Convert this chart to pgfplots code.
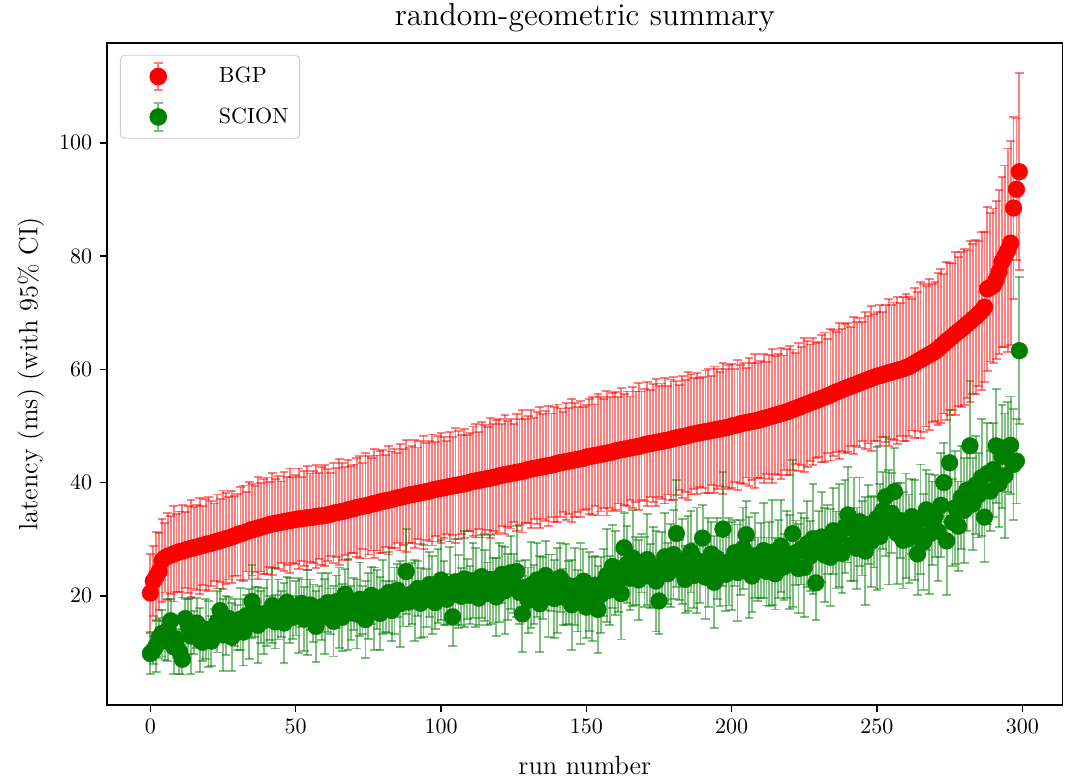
\documentclass[border=0pt]{standalone}
\usepackage{pgfplots}
\usepackage{pgfplotstable}
\pgfplotsset{compat=1.18}
\definecolor{mplgreen}{HTML}{008000}

\pgfplotstableread[row sep=\\]{
x y e \\
0 20.5 6.9 \\ 1 22.6 6.2 \\ 2 23.4 7.9 \\ 3 24.3 6.8 \\ 4 26.2 7.3 \\
5 26.7 6.1 \\ 6 27.0 7.7 \\ 7 27.2 6.9 \\ 8 27.4 8.4 \\ 9 27.6 6.9 \\
10 27.8 7.1 \\ 11 27.9 8.2 \\ 12 28.1 6.7 \\ 13 28.2 7.7 \\ 14 28.4 8.6 \\
15 28.5 7.2 \\ 16 28.6 7.5 \\ 17 28.8 8.5 \\ 18 28.9 7.0 \\ 19 29.1 8.0 \\
20 29.2 8.3 \\ 21 29.3 7.5 \\ 22 29.5 6.8 \\ 23 29.6 8.3 \\ 24 29.8 7.3 \\
25 29.9 8.7 \\ 26 30.1 8.0 \\ 27 30.2 7.3 \\ 28 30.4 8.1 \\ 29 30.6 7.1 \\
30 30.8 7.2 \\ 31 31.0 8.2 \\ 32 31.1 8.4 \\ 33 31.3 7.0 \\ 34 31.5 8.6 \\
35 31.7 8.1 \\ 36 31.8 7.6 \\ 37 32.0 9.0 \\ 38 32.1 7.8 \\ 39 32.3 8.4 \\
40 32.4 8.5 \\ 41 32.6 7.5 \\ 42 32.7 9.0 \\ 43 32.8 7.9 \\ 44 32.9 8.2 \\
45 33.0 7.2 \\ 46 33.1 8.7 \\ 47 33.2 7.8 \\ 48 33.3 9.2 \\ 49 33.4 7.6 \\
50 33.5 7.9 \\ 51 33.6 8.9 \\ 52 33.6 7.4 \\ 53 33.7 8.4 \\ 54 33.8 9.2 \\
55 33.8 7.8 \\ 56 33.9 8.1 \\ 57 34.0 9.1 \\ 58 34.1 7.6 \\ 59 34.1 8.6 \\
60 34.2 8.9 \\ 61 34.3 8.1 \\ 62 34.4 7.3 \\ 63 34.6 8.8 \\ 64 34.7 7.9 \\
65 34.8 9.3 \\ 66 34.9 8.6 \\ 67 35.0 7.8 \\ 68 35.2 8.8 \\ 69 35.3 7.7 \\
70 35.4 7.8 \\ 71 35.6 8.8 \\ 72 35.7 9.0 \\ 73 35.8 7.6 \\ 74 35.9 9.3 \\
75 36.0 8.7 \\ 76 36.2 8.2 \\ 77 36.3 9.6 \\ 78 36.4 8.4 \\ 79 36.6 9.0 \\
80 36.7 9.1 \\ 81 36.8 8.1 \\ 82 36.9 9.6 \\ 83 37.0 8.5 \\ 84 37.2 8.8 \\
85 37.3 7.9 \\ 86 37.4 9.4 \\ 87 37.5 8.5 \\ 88 37.7 9.9 \\ 89 37.8 8.4 \\
90 37.9 8.6 \\ 91 38.0 9.6 \\ 92 38.1 8.1 \\ 93 38.2 9.1 \\ 94 38.3 10.0 \\
95 38.4 8.6 \\ 96 38.5 8.9 \\ 97 38.7 9.8 \\ 98 38.8 8.3 \\ 99 38.9 9.3 \\
100 39.0 9.7 \\ 101 39.1 8.9 \\ 102 39.2 8.2 \\ 103 39.3 9.7 \\ 104 39.4 8.7 \\
105 39.5 10.1 \\ 106 39.6 9.5 \\ 107 39.7 8.7 \\ 108 39.8 9.6 \\ 109 39.9 8.5 \\
110 40.1 8.7 \\ 111 40.2 9.7 \\ 112 40.3 10.0 \\ 113 40.4 8.6 \\ 114 40.5 10.2 \\
115 40.6 9.6 \\ 116 40.7 9.1 \\ 117 40.8 10.6 \\ 118 40.9 9.4 \\ 119 41.0 10.0 \\
120 41.2 10.0 \\ 121 41.3 9.0 \\ 122 41.4 10.5 \\ 123 41.5 9.4 \\ 124 41.6 9.7 \\
125 41.7 8.7 \\ 126 41.8 10.3 \\ 127 41.9 9.4 \\ 128 42.0 10.8 \\ 129 42.1 9.2 \\
130 42.3 9.4 \\ 131 42.4 10.4 \\ 132 42.5 8.9 \\ 133 42.6 9.9 \\ 134 42.7 10.7 \\
135 42.8 9.3 \\ 136 42.9 9.7 \\ 137 43.0 10.6 \\ 138 43.1 9.1 \\ 139 43.2 10.1 \\
140 43.4 10.4 \\ 141 43.5 9.6 \\ 142 43.6 8.8 \\ 143 43.7 10.3 \\ 144 43.8 9.4 \\
145 43.9 10.8 \\ 146 44.0 10.1 \\ 147 44.1 9.3 \\ 148 44.2 10.2 \\ 149 44.3 9.1 \\
150 44.5 9.2 \\ 151 44.6 10.2 \\ 152 44.7 10.4 \\ 153 44.8 9.0 \\ 154 44.9 10.7 \\
155 45.0 10.1 \\ 156 45.1 9.6 \\ 157 45.2 11.0 \\ 158 45.3 9.8 \\ 159 45.4 10.4 \\
160 45.6 10.4 \\ 161 45.7 9.4 \\ 162 45.8 10.9 \\ 163 45.9 9.8 \\ 164 46.0 10.1 \\
165 46.1 9.1 \\ 166 46.2 10.7 \\ 167 46.3 9.8 \\ 168 46.4 11.2 \\ 169 46.5 9.6 \\
170 46.7 9.9 \\ 171 46.8 10.9 \\ 172 46.9 9.4 \\ 173 47.0 10.4 \\ 174 47.1 11.2 \\
175 47.2 9.8 \\ 176 47.3 10.2 \\ 177 47.4 11.1 \\ 178 47.5 9.6 \\ 179 47.6 10.6 \\
180 47.8 10.9 \\ 181 47.9 10.1 \\ 182 48.0 9.3 \\ 183 48.1 10.8 \\ 184 48.2 9.9 \\
185 48.3 11.3 \\ 186 48.5 10.6 \\ 187 48.6 9.8 \\ 188 48.7 10.7 \\ 189 48.8 9.6 \\
190 48.9 9.8 \\ 191 49.0 10.8 \\ 192 49.1 11.0 \\ 193 49.2 9.6 \\ 194 49.3 11.2 \\
195 49.4 10.6 \\ 196 49.5 10.1 \\ 197 49.6 11.6 \\ 198 49.7 10.4 \\ 199 49.8 11.0 \\
200 50.0 11.0 \\ 201 50.1 10.0 \\ 202 50.2 11.5 \\ 203 50.4 10.4 \\ 204 50.5 10.7 \\
205 50.6 9.7 \\ 206 50.7 11.3 \\ 207 50.8 10.4 \\ 208 50.9 11.8 \\ 209 51.0 10.2 \\
210 51.15 10.4 \\ 211 51.3 11.4 \\ 212 51.45 9.9 \\ 213 51.6 10.9 \\ 214 51.75 11.8 \\
215 51.9 10.4 \\ 216 52.05 10.7 \\ 217 52.2 11.6 \\ 218 52.35 10.1 \\ 219 52.5 11.1 \\
220 52.7 11.4 \\ 221 52.9 10.6 \\ 222 53.1 9.8 \\ 223 53.3 11.3 \\ 224 53.5 10.4 \\
225 53.7 11.8 \\ 226 53.9 11.1 \\ 227 54.1 10.3 \\ 228 54.3 11.2 \\ 229 54.5 10.1 \\
230 54.7 10.2 \\ 231 54.9 11.2 \\ 232 55.1 11.4 \\ 233 55.3 10.0 \\ 234 55.5 11.6 \\
235 55.8 11.1 \\ 236 56.0 10.6 \\ 237 56.2 12.0 \\ 238 56.4 10.8 \\ 239 56.6 11.4 \\
240 56.8 11.4 \\ 241 57.0 10.5 \\ 242 57.2 12.1 \\ 243 57.4 11.0 \\ 244 57.6 11.4 \\
245 57.8 10.5 \\ 246 58.0 12.1 \\ 247 58.2 11.3 \\ 248 58.4 12.8 \\ 249 58.6 11.2 \\
250 58.8 11.4 \\ 251 58.9 12.5 \\ 252 59.1 11.1 \\ 253 59.2 12.1 \\ 254 59.4 13.0 \\
255 59.5 11.8 \\ 256 59.7 12.1 \\ 257 59.8 13.0 \\ 258 60.0 11.7 \\ 259 60.1 12.7 \\
260 60.3 13.0 \\ 261 60.5 12.3 \\ 262 60.8 11.6 \\ 263 61.1 13.2 \\ 264 61.4 12.3 \\
265 61.7 13.8 \\ 266 62.0 13.1 \\ 267 62.3 12.4 \\ 268 62.6 13.3 \\ 269 62.9 12.2 \\
270 63.2 12.3 \\ 271 63.6 13.4 \\ 272 64.1 13.6 \\ 273 64.5 12.3 \\ 274 65.0 13.9 \\
275 65.4 13.4 \\ 276 65.8 12.9 \\ 277 66.3 14.4 \\ 278 66.7 13.2 \\ 279 67.1 13.7 \\
280 67.5 13.8 \\ 281 68.0 13.0 \\ 282 68.4 14.2 \\ 283 68.9 13.3 \\ 284 69.3 13.6 \\
285 69.8 12.8 \\ 286 70.3 14.0 \\ 287 71.0 13.2 \\ 288 74.2 14.5 \\ 289 74.5 13.1 \\
290 74.8 13.6 \\ 291 75.8 14.0 \\ 292 77.2 14.5 \\ 293 79.0 15.0 \\ 294 80.0 16.0 \\
295 81.0 18.0 \\ 296 82.3 18.0 \\ 297 88.5 16.0 \\ 298 91.8 12.5 \\ 299 94.9 17.4 \\
}\bgp

\pgfplotstableread[row sep=\\]{
x y e \\
0 9.8 3.6 \\ 1 10.4 2.5 \\ 2 11.2 4.6 \\ 3 12.6 3.5 \\ 4 13.4 4.1 \\
5 12.1 3.4 \\ 6 14.0 5.5 \\ 7 15.6 3.9 \\ 8 11.0 4.8 \\ 9 12.4 3.4 \\
10 10.2 4.0 \\ 11 8.8 2.7 \\ 12 16.0 3.4 \\ 13 14.6 4.8 \\ 14 12.9 6.7 \\
15 13.5 3.8 \\ 16 15.2 4.4 \\ 17 12.2 5.6 \\ 18 11.8 3.3 \\ 19 14.1 5.3 \\
20 13.3 5.8 \\ 21 12.0 4.4 \\ 22 14.5 3.2 \\ 23 15.4 5.4 \\ 24 17.4 3.9 \\
25 13.1 6.4 \\ 26 14.8 5.2 \\ 27 16.0 3.8 \\ 28 12.7 6.0 \\ 29 15.3 4.1 \\
30 14.4 4.0 \\ 31 15.9 5.5 \\ 32 13.6 5.9 \\ 33 16.5 3.7 \\ 34 15.0 6.2 \\
35 19.0 6.5 \\ 36 17.2 4.4 \\ 37 14.8 6.7 \\ 38 16.3 4.6 \\ 39 15.6 5.8 \\
40 17.0 5.9 \\ 41 16.1 3.9 \\ 42 18.3 6.6 \\ 43 15.4 4.7 \\ 44 17.6 5.3 \\
45 16.8 4.1 \\ 46 15.2 7.0 \\ 47 18.9 4.5 \\ 48 17.4 5.7 \\ 49 16.2 3.8 \\
50 17.8 4.8 \\ 51 16.5 6.6 \\ 52 18.7 4.2 \\ 53 15.9 5.6 \\ 54 17.1 7.5 \\
55 18.4 4.5 \\ 56 16.9 5.1 \\ 57 14.6 6.3 \\ 58 17.7 4.0 \\ 59 18.1 5.9 \\
60 16.4 6.6 \\ 61 18.8 5.2 \\ 62 17.3 4.0 \\ 63 15.5 6.2 \\ 64 19.0 4.6 \\
65 17.9 7.1 \\ 66 16.2 5.9 \\ 67 20.3 4.5 \\ 68 18.5 8.0 \\ 69 17.0 4.8 \\
70 18.6 4.6 \\ 71 16.8 6.1 \\ 72 19.4 6.5 \\ 73 17.5 4.3 \\ 74 15.8 6.8 \\
75 18.2 5.8 \\ 76 20.1 5.0 \\ 77 17.7 7.3 \\ 78 19.3 5.2 \\ 79 16.9 6.4 \\
80 19.8 6.5 \\ 81 18.1 4.5 \\ 82 20.6 7.2 \\ 83 17.4 5.3 \\ 84 19.1 5.9 \\
85 21.0 4.7 \\ 86 18.6 7.6 \\ 87 19.7 5.1 \\ 88 24.3 7.5 \\ 89 18.9 4.3 \\
90 20.4 5.4 \\ 91 19.2 7.2 \\ 92 21.3 4.8 \\ 93 18.7 6.2 \\ 94 20.9 8.1 \\
95 19.6 5.1 \\ 96 22.0 5.7 \\ 97 20.2 6.9 \\ 98 18.8 4.6 \\ 99 21.7 6.5 \\
100 22.8 7.1 \\ 101 20.5 5.7 \\ 102 19.4 4.5 \\ 103 21.9 6.7 \\ 104 16.3 5.1 \\
105 22.5 7.6 \\ 106 20.8 6.4 \\ 107 19.9 5.0 \\ 108 23.0 8.5 \\ 109 21.2 5.3 \\
110 20.1 5.1 \\ 111 22.7 6.6 \\ 112 21.5 7.0 \\ 113 19.6 4.8 \\ 114 23.4 7.3 \\
115 21.8 6.3 \\ 116 20.4 5.5 \\ 117 22.9 7.8 \\ 118 21.0 5.7 \\ 119 19.8 6.9 \\
120 22.4 7.0 \\ 121 23.8 5.0 \\ 122 20.9 7.7 \\ 123 21.6 5.8 \\ 124 24.1 6.4 \\
125 22.2 5.2 \\ 126 24.3 8.1 \\ 127 20.6 5.6 \\ 128 16.8 6.7 \\ 129 21.5 4.8 \\
130 19.2 5.8 \\ 131 21.9 7.6 \\ 132 20.3 5.2 \\ 133 22.8 6.6 \\ 134 18.6 8.5 \\
135 21.4 5.5 \\ 136 23.6 6.1 \\ 137 20.0 7.3 \\ 138 22.3 5.0 \\ 139 19.5 6.9 \\
140 21.0 7.5 \\ 141 23.2 6.1 \\ 142 19.8 4.9 \\ 143 22.0 7.1 \\ 144 20.6 5.5 \\
145 18.4 8.0 \\ 146 21.7 6.8 \\ 147 19.1 5.4 \\ 148 20.4 8.9 \\ 149 22.6 5.7 \\
150 18.0 5.5 \\ 151 20.8 7.0 \\ 152 19.5 7.4 \\ 153 21.9 5.2 \\ 154 17.6 7.7 \\
155 20.2 6.7 \\ 156 22.4 5.9 \\ 157 23.6 8.2 \\ 158 21.0 6.1 \\ 159 25.2 7.3 \\
160 24.0 7.4 \\ 161 22.6 5.4 \\ 162 20.4 8.1 \\ 163 28.5 6.2 \\ 164 25.6 6.8 \\
165 23.1 5.6 \\ 166 26.7 8.5 \\ 167 24.4 6.0 \\ 168 22.8 7.1 \\ 169 25.8 5.2 \\
170 24.2 6.2 \\ 171 26.4 8.0 \\ 172 23.5 5.6 \\ 173 25.1 7.0 \\ 174 22.6 8.9 \\
175 19.1 5.9 \\ 176 24.8 6.5 \\ 177 26.9 7.7 \\ 178 23.9 5.4 \\ 179 25.4 7.3 \\
180 27.3 7.9 \\ 181 31.0 9.4 \\ 182 24.6 5.3 \\ 183 26.1 7.5 \\ 184 22.9 5.9 \\
185 25.7 8.4 \\ 186 27.8 7.2 \\ 187 23.6 5.8 \\ 188 26.3 9.3 \\ 189 24.9 6.1 \\
190 30.2 5.9 \\ 191 23.3 7.4 \\ 192 25.9 7.8 \\ 193 27.4 5.6 \\ 194 22.4 8.1 \\
195 26.6 7.1 \\ 196 24.5 6.3 \\ 197 31.8 10.0 \\ 198 23.8 6.5 \\ 199 26.0 7.7 \\
200 25.3 7.8 \\ 201 27.6 5.8 \\ 202 24.1 8.5 \\ 203 26.8 6.6 \\ 204 28.4 7.2 \\
205 30.8 6.0 \\ 206 25.0 8.9 \\ 207 23.5 6.4 \\ 208 27.1 7.5 \\ 209 24.7 5.6 \\
210 26.2 6.6 \\ 211 28.0 8.4 \\ 212 24.3 6.0 \\ 213 25.6 7.4 \\ 214 27.7 9.3 \\
215 23.9 6.3 \\ 216 26.5 6.9 \\ 217 28.8 8.1 \\ 218 25.1 5.8 \\ 219 27.3 7.7 \\
220 26.0 8.3 \\ 221 31.0 13.0 \\ 222 27.6 5.7 \\ 223 24.8 7.9 \\ 224 28.3 6.3 \\
225 25.0 8.8 \\ 226 29.2 7.6 \\ 227 27.0 6.2 \\ 228 30.1 9.7 \\ 229 22.3 6.5 \\
230 28.6 6.4 \\ 231 30.4 7.9 \\ 232 27.2 8.3 \\ 233 29.9 6.1 \\ 234 26.8 8.6 \\
235 31.5 7.6 \\ 236 28.1 6.8 \\ 237 30.7 9.1 \\ 238 27.5 7.0 \\ 239 32.2 8.2 \\
240 34.3 8.4 \\ 241 29.0 6.4 \\ 242 31.8 9.1 \\ 243 28.4 7.2 \\ 244 33.1 7.8 \\
245 30.2 6.6 \\ 246 27.9 9.5 \\ 247 32.6 7.0 \\ 248 29.6 8.1 \\ 249 31.2 6.2 \\
250 33.7 12.6 \\ 251 30.5 9.2 \\ 252 35.0 6.8 \\ 253 37.5 10.5 \\ 254 32.1 10.1 \\
255 34.6 7.1 \\ 256 38.4 7.7 \\ 257 31.0 8.9 \\ 258 33.3 6.6 \\ 259 29.8 8.5 \\
260 32.4 9.2 \\ 261 30.1 7.8 \\ 262 34.0 6.6 \\ 263 31.6 8.8 \\ 264 27.4 7.2 \\
265 33.5 9.7 \\ 266 29.5 8.5 \\ 267 35.2 7.1 \\ 268 30.9 10.6 \\ 269 32.8 7.4 \\
270 34.1 7.3 \\ 271 31.4 8.8 \\ 272 36.0 9.2 \\ 273 40.0 7.0 \\ 274 29.7 9.5 \\
275 43.5 9.3 \\ 276 33.0 7.7 \\ 277 35.6 10.0 \\ 278 32.3 7.9 \\ 279 37.4 9.1 \\
280 35.1 9.3 \\ 281 38.7 7.3 \\ 282 46.5 11.5 \\ 283 36.2 8.1 \\ 284 39.6 8.7 \\
285 37.8 7.5 \\ 286 40.9 10.4 \\ 287 33.9 7.9 \\ 288 41.6 9.0 \\ 289 38.5 7.1 \\
290 42.3 8.3 \\ 291 46.5 10.1 \\ 292 39.8 7.7 \\ 293 44.6 9.1 \\ 294 41.2 11.0 \\
295 46.3 8.0 \\ 296 46.6 8.6 \\ 297 43.2 9.8 \\ 298 43.8 7.5 \\ 299 63.3 13.0 \\
}\scion

\begin{document}
\begin{tikzpicture}
\begin{axis}[
  scale only axis, width=434.5pt, height=300.9pt,
  xmin=-14.95, xmax=313.95, ymin=0.75, ymax=117.66,
  xtick={0,50,...,300}, ytick={20,40,...,100},
  tick align=outside, tick pos=left, major tick length=3.2pt,
  axis line style={line width=0.6pt}, tick style={line width=0.6pt, black},
  title={random-geometric summary}, title style={font=\Large, yshift=-4.5pt},
  xlabel={run number}, ylabel={latency (ms) (with 95\% CI)},
  label style={font=\large},
  xlabel style={yshift=-3.4pt},
  legend cell align=left,
  legend style={at={(0.0136,0.982)}, anchor=north west, draw=black!20,
    rounded corners=2pt, fill=white, inner sep=3pt, row sep=5pt, font=\normalsize},
]
\addplot[only marks, mark=*, mark size=3.8pt, color=red, mark options={fill=red, draw=red, line width=0.2pt},
  error bars/.cd, y dir=both, y explicit, error mark=-,
  error bar style={red, opacity=0.5, line width=0.85pt},
  error mark options={rotate=90, red, opacity=0.5, mark size=2pt, line width=0.85pt},
  /pgfplots/legend image code/.code={
    \path[draw=none] (0cm,0cm) -- (1.4cm,0cm);
    \draw[red, opacity=0.5, line width=0.85pt] (0.5cm,-0.22cm) -- (0.5cm,0.22cm)
      (0.43cm,-0.22cm) -- (0.57cm,-0.22cm) (0.43cm,0.22cm) -- (0.57cm,0.22cm);
    \fill[red] (0.5cm,0cm) circle (3.8pt);}
  ] table[x=x, y=y, y error=e] {\bgp};
\addlegendentry{BGP}
\addplot[only marks, mark=*, mark size=3.8pt, color=mplgreen, mark options={fill=mplgreen, draw=mplgreen, line width=0.2pt},
  error bars/.cd, y dir=both, y explicit, error mark=-,
  error bar style={mplgreen, opacity=0.5, line width=0.85pt},
  error mark options={rotate=90, mplgreen, opacity=0.5, mark size=2pt, line width=0.85pt},
  /pgfplots/legend image code/.code={
    \path[draw=none] (0cm,0cm) -- (1.4cm,0cm);
    \draw[mplgreen, opacity=0.5, line width=0.85pt] (0.5cm,-0.22cm) -- (0.5cm,0.22cm)
      (0.43cm,-0.22cm) -- (0.57cm,-0.22cm) (0.43cm,0.22cm) -- (0.57cm,0.22cm);
    \fill[mplgreen] (0.5cm,0cm) circle (3.8pt);}
  ] table[x=x, y=y, y error=e] {\scion};
\addlegendentry{SCION}
\end{axis}
\pgfresetboundingbox
\path[use as bounding box] ([xshift=-48.6pt,yshift=-34.1pt]current axis.south west) rectangle ([xshift=1pt,yshift=19.5pt]current axis.north east);
\end{tikzpicture}
\end{document}
